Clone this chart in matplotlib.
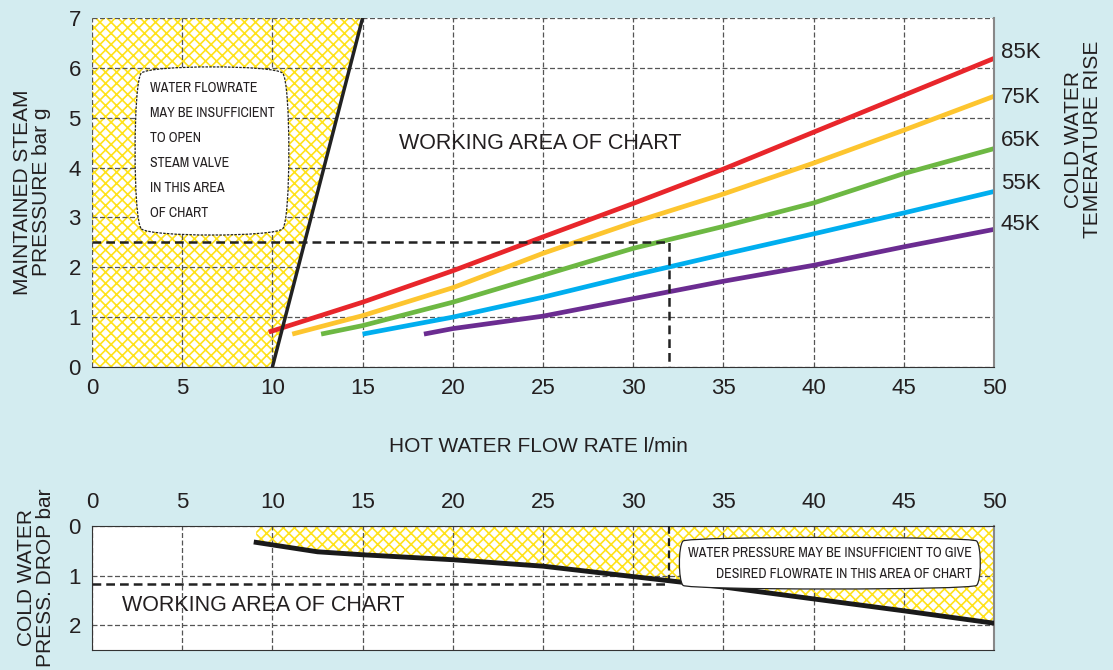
import matplotlib
matplotlib.use("Agg")
import matplotlib.pyplot as plt
from matplotlib import font_manager

plt.rcParams['font.family'] = ['Liberation Sans', 'DejaVu Sans']
plt.rcParams['hatch.linewidth'] = 1.2

# hot water flow (l/min) vs maintained steam pressure (bar g), one curve per temperature rise
rise_labels = ['85K', '75K', '65K', '55K', '45K']
flow_85 = [9.8, 15, 20, 25, 30, 35, 40, 45, 50]
pres_85 = [0.70, 1.30, 1.93, 2.61, 3.28, 3.97, 4.71, 5.45, 6.19]
flow_75 = [11.1, 15, 20, 25, 30, 35, 40, 45, 50]
pres_75 = [0.66, 1.03, 1.59, 2.28, 2.90, 3.47, 4.09, 4.75, 5.43]
flow_65 = [12.7, 15, 20, 25, 30, 35, 40, 45, 50]
pres_65 = [0.66, 0.83, 1.30, 1.84, 2.38, 2.82, 3.29, 3.88, 4.38]
flow_55 = [15, 20, 25, 30, 35, 40, 45, 50]
pres_55 = [0.66, 1.00, 1.40, 1.84, 2.26, 2.67, 3.09, 3.52]
flow_45 = [18.4, 20, 25, 30, 35, 40, 45, 50]
pres_45 = [0.66, 0.77, 1.02, 1.37, 1.72, 2.04, 2.41, 2.76]
label_pres = [6.30, 5.41, 4.55, 3.69, 2.85]

# limit of the valve opening area
limit_flow = [10, 15]
limit_pres = [0, 7]

# cold water pressure drop (bar) vs flow
drop_flow = [9.1, 12.5, 15, 20, 25, 30, 35, 40, 45, 50]
drop_bar = [0.33, 0.52, 0.58, 0.68, 0.81, 1.02, 1.23, 1.47, 1.71, 1.96]

# worked example
ex_flow = 32
ex_pres = 2.5
ex_drop = 1.16

colors = ['#E8262B', '#FDC52F', '#6DB843', '#00AEEF', '#6B2C91']
bg = '#D3ECF0'
yellow = '#FFE21A'
txt = '#231F20'

# look for a condensed face for the callout notes
names = sorted({f.name for f in font_manager.fontManager.ttflist})
cond = [n for n in names if 'Narrow' in n or 'Condensed' in n]
if cond:
    narrow = [cond[0], 'Liberation Sans']
    note_size = 10
else:
    narrow = ['Liberation Sans', 'DejaVu Sans']
    note_size = 8.4

W, H = 1113, 670
fig = plt.figure(figsize=(W / 100, H / 100), dpi=100, facecolor=bg)
ax = fig.add_axes([92 / W, 1 - 367 / H, 902 / W, 349 / H])
ax2 = fig.add_axes([92 / W, 1 - 650 / H, 902 / W, 124 / H])

grid_kw = dict(color='#555555', lw=0.9, linestyle=(0, (4, 2)))

# ---- top chart
ax.set_xlim(0, 50)
ax.set_ylim(0, 7)
ax.set_xticks(range(0, 51, 5))
ax.set_yticks(range(0, 8))
ax.grid(True, **grid_kw)
ax.tick_params(length=0, labelsize=16, colors=txt, pad=8)
for s in ['top', 'left']:
    ax.spines[s].set_visible(False)
ax.spines['bottom'].set_color('#333333')
ax.spines['right'].set_color('#888888')
ax.spines['right'].set_linewidth(1.5)

ax.fill_betweenx(limit_pres, 0, limit_flow, facecolor='white',
                 edgecolor=yellow, hatch='xxx', lw=0, zorder=1)
ax.plot(limit_flow, limit_pres, color='#222222', lw=2.5, zorder=3)

curves = [(flow_85, pres_85), (flow_75, pres_75), (flow_65, pres_65),
          (flow_55, pres_55), (flow_45, pres_45)]
for (fx, py), c, lab, ly in zip(curves, colors, rise_labels, label_pres):
    ax.plot(fx, py, color=c, lw=3.4, solid_capstyle='butt',
            solid_joinstyle='round', zorder=2.5)
    ax.annotate(lab, xy=(50, ly), xytext=(5, 0), textcoords='offset points',
                ha='left', va='center', fontsize=16, color=txt,
                annotation_clip=False)

ax.plot([0, ex_flow, ex_flow], [ex_pres, ex_pres, 0], color='#222222',
        lw=1.8, linestyle=(0, (3.5, 2)), zorder=2.8)

ax.text(0.497, 0.639, 'WORKING AREA OF CHART', transform=ax.transAxes,
        ha='center', va='center', fontsize=15.5, color=txt)
ax.text(0.133, 0.619,
        'WATER FLOWRATE\nMAY BE INSUFFICIENT\nTO OPEN\nSTEAM VALVE\nIN THIS AREA\nOF CHART',
        transform=ax.transAxes, ha='center', va='center', multialignment='left',
        fontsize=note_size, family=narrow, color=txt, linespacing=2.0, zorder=4,
        bbox=dict(boxstyle='round4,pad=1.2', fc='white', ec='#222222',
                  lw=0.9, ls=(0, (2, 1))))

# ---- bottom chart
ax2.set_xlim(0, 50)
ax2.set_ylim(2.5, 0)
ax2.set_xticks(range(0, 51, 5))
ax2.set_yticks([0, 1, 2])
ax2.grid(True, **grid_kw)
ax2.xaxis.tick_top()
ax2.tick_params(length=0, labelsize=16, colors=txt)
ax2.tick_params(axis='x', pad=9)
ax2.tick_params(axis='y', pad=8)
for s in ['top', 'left', 'bottom']:
    ax2.spines[s].set_color('#333333')
ax2.spines['right'].set_color('#888888')
ax2.spines['right'].set_linewidth(1.5)

ax2.fill_between(drop_flow, 0, drop_bar, facecolor='white',
                 edgecolor=yellow, hatch='xxx', lw=0, zorder=1)
ax2.plot(drop_flow, drop_bar, color='#1a1a1a', lw=3.5, zorder=3)
ax2.plot([0, ex_flow], [ex_drop, ex_drop], color='#222222', lw=1.8,
         linestyle=(0, (3.5, 2)), zorder=2.8)
ax2.plot([ex_flow, ex_flow], [0, ex_drop], color='#222222', lw=1.6,
         linestyle=(0, (3.5, 2)), zorder=2.8)

ax2.text(0.033, 0.355, 'WORKING AREA OF CHART', transform=ax2.transAxes,
         ha='left', va='center', fontsize=15.5, color=txt)
ax2.text(0.818, 0.70,
         'WATER PRESSURE MAY BE INSUFFICIENT TO GIVE\nDESIRED FLOWRATE IN THIS AREA OF CHART',
         transform=ax2.transAxes, ha='center', va='center', multialignment='right',
         fontsize=note_size, family=narrow, color=txt, linespacing=1.6, zorder=4,
         bbox=dict(boxstyle='round4,pad=0.7', fc='white', ec='#222222', lw=0.9))

# ---- axis titles
fig.text(538 / W, 1 - 447 / H, 'HOT WATER FLOW RATE l/min', ha='center',
         va='center', fontsize=15, color=txt)
fig.text(32 / W, 1 - 192 / H, 'MAINTAINED STEAM\nPRESSURE bar g', rotation=90,
         ha='center', va='center', fontsize=15, color=txt, linespacing=1.05)
fig.text(36 / W, 1 - 578 / H, 'COLD WATER\nPRESS. DROP bar', rotation=90,
         ha='center', va='center', fontsize=15, color=txt, linespacing=1.05)
fig.text(1083 / W, 1 - 139 / H, 'COLD WATER\nTEMERATURE RISE', rotation=90,
         ha='center', va='center', fontsize=15, color=txt, linespacing=1.05)

fig.savefig('out.png', dpi=100, facecolor=bg)
